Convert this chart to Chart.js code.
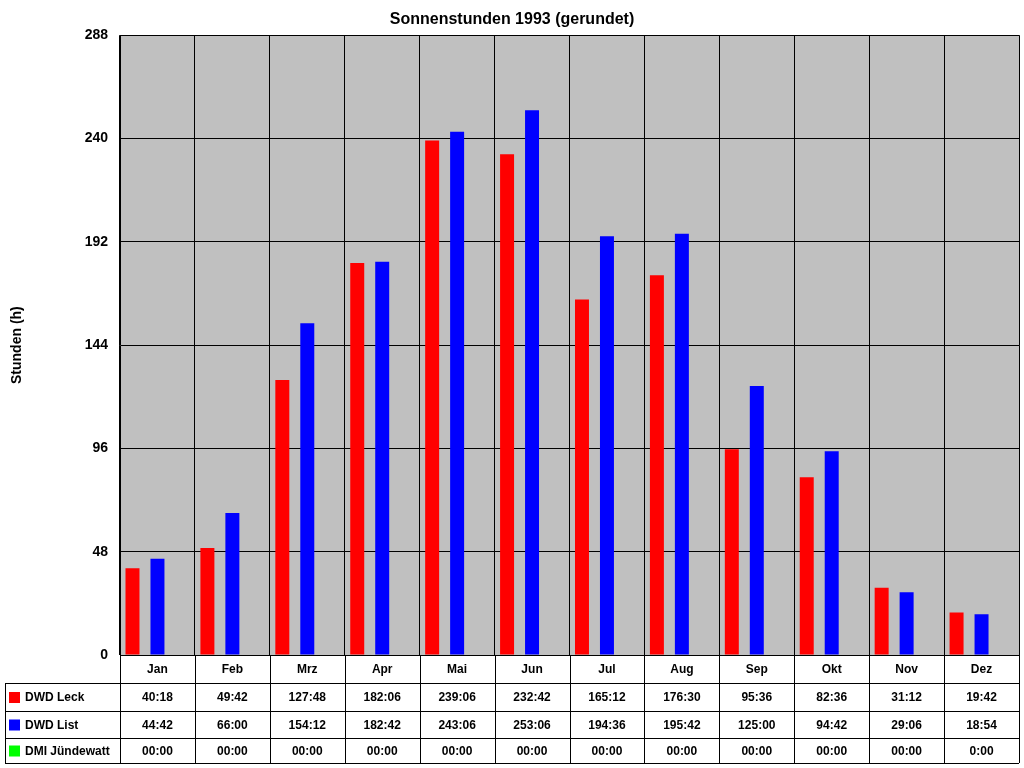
<!DOCTYPE html>
<html><head><meta charset="utf-8">
<script src="https://cdn.jsdelivr.net/npm/chart.js@4/dist/chart.umd.min.js"></script>
<style>html,body{margin:0;padding:0;background:#fff}#w{width:1024px;height:768px}</style>
</head><body><div id="w"><canvas id="c"></canvas></div>
<script>
const months=["Jan","Feb","Mrz","Apr","Mai","Jun","Jul","Aug","Sep","Okt","Nov","Dez"];
const leckText=["40:18","49:42","127:48","182:06","239:06","232:42","165:12","176:30","95:36","82:36","31:12","19:42"];
const listText=["44:42","66:00","154:12","182:42","243:06","253:06","194:36","195:42","125:00","94:42","29:06","18:54"];
const dmiText=["00:00","00:00","00:00","00:00","00:00","00:00","00:00","00:00","00:00","00:00","00:00","0:00"];
const yTicks=[0,48,96,144,192,240,288];
const toH=s=>{const [h,m]=s.split(":").map(Number);return h+m/60;};
const leck=leckText.map(toH), list=listText.map(toH), dmi=dmiText.map(toH);
const rows=[["DWD Leck","#ff0000",leckText],["DWD List","#0000ff",listText],["DMI Jündewatt","#00ff00",dmiText]];
const F="'Liberation Sans',Arial,sans-serif";
const plug={id:'p',
beforeDraw(ch){const a=ch.chartArea,c=ch.ctx;c.save();c.fillStyle='#c0c0c0';c.fillRect(a.left,a.top,a.right-a.left,a.bottom-a.top);c.restore();},
afterDraw(ch){const a=ch.chartArea,c=ch.ctx,x=ch.scales.x;const cw=(a.right-a.left)/months.length;
c.save();c.strokeStyle='#000';c.lineWidth=1;
const rowY=[a.bottom,a.bottom+28,a.bottom+56,a.bottom+83,a.bottom+108];
c.beginPath();
for(let i=0;i<=months.length;i++){const xx=Math.round(a.left+i*cw)+0.5;c.moveTo(xx,a.bottom);c.lineTo(xx,rowY[4]);}
c.moveTo(5.5,rowY[1]);c.lineTo(5.5,rowY[4]);
for(let r=1;r<5;r++){c.moveTo(5,rowY[r]+0.5);c.lineTo(a.right,rowY[r]+0.5);}
c.stroke();
c.font="bold 12px "+F;c.textBaseline='middle';
rows.forEach((r,ri)=>{const yc=(rowY[ri+1]+rowY[ri+2])/2+1;
c.fillStyle=r[1];c.fillRect(9,yc-6,11,11);c.fillStyle='#000';c.textAlign='left';c.fillText(r[0],25,yc);
c.textAlign='center';r[2].forEach((t,i)=>c.fillText(t,x.getPixelForValue(i),yc));});
c.restore();}};
new Chart(document.getElementById('c'),{type:'bar',
data:{labels:months,datasets:[
{label:"DWD Leck",data:leck,backgroundColor:'#ff0000'},
{label:"DWD List",data:list,backgroundColor:'#0000ff'},
{label:"DMI Jündewatt",data:dmi,backgroundColor:'#00ff00'}]},
options:{responsive:true,maintainAspectRatio:false,animation:false,
layout:{padding:{left:5,right:5,top:0,bottom:85}},
datasets:{bar:{categoryPercentage:1,barPercentage:0.56}},
plugins:{legend:{display:false},tooltip:{enabled:false},
title:{display:true,text:"Sonnenstunden 1993 (gerundet)",color:'#000',font:{family:F,size:16,weight:'bold'},padding:{top:10,bottom:6}}},
scales:{
x:{grid:{color:'#000',offset:true,drawTicks:false},border:{color:'#000'},
ticks:{color:'#000',font:{family:F,size:12,weight:'bold'},padding:7,maxRotation:0},afterFit:s=>{s.height=28;}},
y:{min:0,max:288,afterBuildTicks:s=>{s.ticks=yTicks.map(v=>({value:v}));},
grid:{color:'#000',drawTicks:false},border:{color:'#000'},
ticks:{color:'#000',font:{family:F,size:14,weight:'bold'},padding:12},
title:{display:true,text:"Stunden (h)",color:'#000',font:{family:F,size:14,weight:'bold'}},
afterFit:s=>{s.width=115;}}}},
plugins:[plug]});
</script></body></html>
